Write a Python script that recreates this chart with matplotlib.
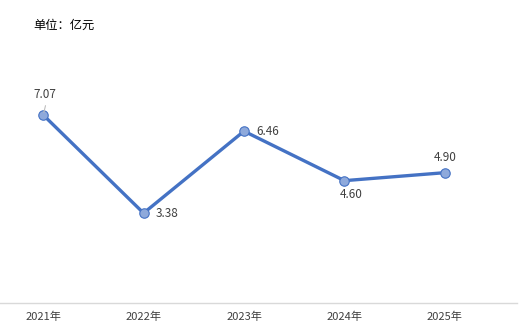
import matplotlib.pyplot as plt

plt.rcParams['font.family'] = ['Noto Sans CJK SC', 'DejaVu Sans']

years = ['2021年', '2022年', '2023年', '2024年', '2025年']
values = [7.07, 3.38, 6.46, 4.60, 4.90]
labels = ['7.07', '3.38', '6.46', '4.60', '4.90']
# label offsets in points (dx, dy)
offsets = [(1, 15), (17, 0), (17, 0), (5, -10), (0, 11)]

fig = plt.figure(figsize=(5.25, 3.36), dpi=100)
ax = fig.add_axes([0, 0.098, 0.985, 0.792])

x = list(range(len(years)))
ax.plot(x, values, '-', color='#4472C4', linewidth=2.4, zorder=2)
ax.plot(x, values, 'o', markersize=6.8, markerfacecolor='#8EA9DB',
        markeredgecolor='#4472C4', markeredgewidth=0.8, zorder=3)

for xi, v, lab, (dx, dy) in zip(x, values, labels, offsets):
    ax.annotate(lab, (xi, v), xytext=(dx, dy), textcoords='offset points',
                ha='center', va='center', fontsize=8.5, color='#404040')

# leader line for the first label
ax.annotate('', (x[0], values[0]), xytext=(x[0] + 0.03, values[0] + 0.45),
            arrowprops=dict(arrowstyle='-', color='#BFBFBF', lw=0.8))

ax.set_xlim(-0.43, 4.72)
ax.set_ylim(0, 10)
ax.set_xticks(x)
ax.set_xticklabels(years, fontsize=8, color='#404040')
ax.tick_params(axis='x', length=0, pad=6)
ax.set_yticks([])
for s in ['top', 'right', 'left']:
    ax.spines[s].set_visible(False)
ax.spines['bottom'].set_color('#D9D9D9')
ax.spines['bottom'].set_linewidth(1)

fig.text(33 / 525, 1 - 25 / 336, '单位：亿元', fontsize=8.8, color='black',
         ha='left', va='center')

fig.savefig('out.png', dpi=100)
